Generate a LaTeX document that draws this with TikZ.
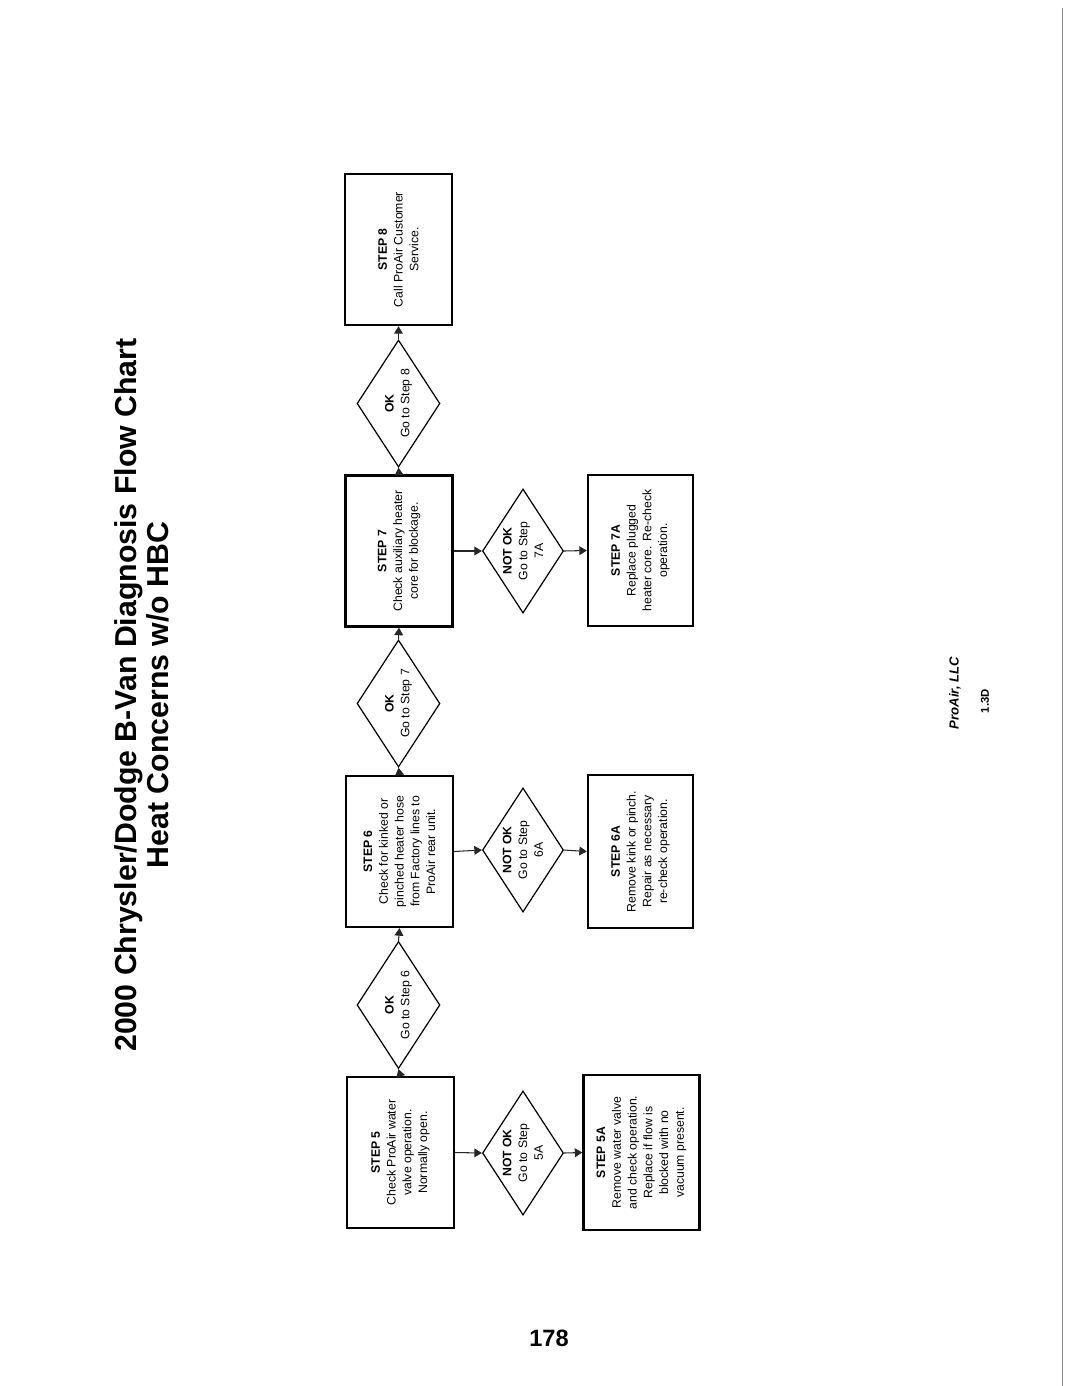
\documentclass[tikz,border=0pt]{standalone}
\usepackage{fontspec}
\setmainfont{Liberation Sans}
\usetikzlibrary{arrows.meta,shapes.geometric}

\begin{document}
\begin{tikzpicture}[x=0.5714pt,y=-0.5714pt,
  stepbox/.style={draw,line width=1.3pt,rotate=90,minimum width=86.3pt,minimum height=61.1pt,inner sep=1pt,align=center,font=\fontsize{7}{9}\selectfont},
  okdia/.style={draw,diamond,line width=0.7pt,rotate=90,inner sep=0pt,minimum width=72.6pt,minimum height=47.4pt},
  nokdia/.style={okdia,minimum width=70.9pt,minimum height=46.3pt},
  diatext/.style={rotate=90,align=center,inner sep=0pt,font=\fontsize{7}{9}\selectfont},
  flow/.style={-{Triangle[length=4.3pt,width=5pt]},line width=0.6pt,black!85}]
\useasboundingbox (0,0) rectangle (1071,1386);
\node[rotate=90,align=center,font=\bfseries\fontsize{17.3}{18.3}\selectfont] (title) at (142,695) {2000 Chrysler/Dodge B-Van Diagnosis Flow Chart\\Heat Concerns w/o HBC};
\node[stepbox] (s5) at (400.5,1152.5) {\textbf{STEP 5}\\Check ProAir water\\valve operation.\\Normally open.};
\node[stepbox] (s6) at (399.5,851.5) {\textbf{STEP 6}\\Check for kinked or\\pinched heater hose\\from Factory lines to\\ProAir rear unit.};
\node[stepbox] (s7) at (399,551) {\textbf{STEP 7}\\Check auxiliary heater\\core for blockage.};
\node[stepbox] (s8) at (398.5,249.5) {\textbf{STEP 8}\\Call ProAir Customer\\Service.};
\node[okdia] (okA) at (398.5,1005) {};
\node[diatext] (okAtext) at (okA) {\textbf{OK}\\Go to Step 6};
\node[okdia] (okB) at (398.5,703.5) {};
\node[diatext] (okBtext) at (okB) {\textbf{OK}\\Go to Step 7};
\node[okdia] (okC) at (398.5,403.5) {};
\node[diatext] (okCtext) at (okC) {\textbf{OK}\\Go to Step 8};
\node[nokdia] (nok5) at (523,1153) {};
\node[diatext] (nok5text) at (nok5) {\textbf{NOT OK}\\Go to Step\\5A};
\node[nokdia] (nok6) at (523,850) {};
\node[diatext] (nok6text) at (nok6) {\textbf{NOT OK}\\Go to Step\\6A};
\node[nokdia] (nok7) at (523,551) {};
\node[diatext] (nok7text) at (nok7) {\textbf{NOT OK}\\Go to Step\\7A};
\node[stepbox,minimum width=88.6pt,minimum height=66.3pt] (s5a) at (641.5,1152.5) {\textbf{STEP 5A}\\Remove water valve\\and check operation.\\Replace if flow is\\blocked with no\\vacuum present.};
\node[stepbox,minimum width=87.4pt,minimum height=60pt] (s6a) at (640.5,851.5) {\textbf{STEP 6A}\\Remove kink or pinch.\\Repair as necessary\\re-check operation.};
\node[stepbox,minimum width=86.3pt,minimum height=60pt] (s7a) at (640.5,550.5) {\textbf{STEP 7A}\\Replace plugged\\heater core. Re-check\\operation.};
\draw[flow] (s5.east) -- (okA.west);
\draw[flow] (okA.east) -- (s6.west);
\draw[flow] (s6.east) -- (okB.west);
\draw[flow] (okB.east) -- (s7.west);
\draw[flow] (s7.east) -- (okC.west);
\draw[flow] (okC.east) -- (s8.west);
\draw[flow] (s5.south) -- (nok5.north);
\draw[flow] (nok5.south) -- (s5a.north);
\draw[flow] (s6.south) -- (nok6.north);
\draw[flow] (nok6.south) -- (s6a.north);
\draw[flow] (s7.south) -- (nok7.north);
\draw[flow] (nok7.south) -- (s7a.north);
\node[rotate=90,font=\bfseries\itshape\fontsize{7.5}{9}\selectfont] (maker) at (955,693) {ProAir, LLC};
\node[rotate=90,font=\bfseries\fontsize{6.5}{8}\selectfont] (code) at (985,701) {1.3D};
\node[font=\bfseries\fontsize{13.5}{16}\selectfont] (pageno) at (549,1338) {178};
\draw[black!45,line width=0.5pt] (1062,8) -- (1062,1386);
\end{tikzpicture}
\end{document}
